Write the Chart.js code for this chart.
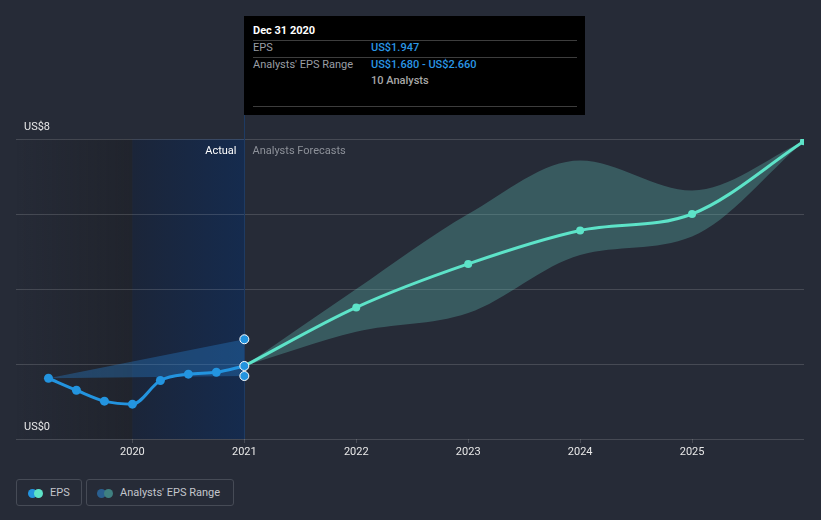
<!DOCTYPE html>
<html>
<head>
<meta charset="utf-8">
<script src="https://cdn.jsdelivr.net/npm/chart.js@4.4.1/dist/chart.umd.min.js"></script>
<style>
  body { margin: 0; background: #262b37; font-family: Roboto, sans-serif; }
  #wrap { position: relative; width: 821px; height: 520px; overflow: hidden; }
  #chart { position: absolute; left: 0; top: 0; }
  .tip { position: absolute; left: 244px; top: 16px; width: 341px; height: 99px; background: #000; }
  .tip span { position: absolute; font-size: 11px; line-height: 14px; white-space: nowrap; }
  .tip .rule { position: absolute; left: 9px; width: 324px; height: 1px; background: #3d3d3d; }
  .lbl { color: #9a9ea5; }
  .val { color: #2a97e6; font-weight: 500; }
  .leg { position: absolute; top: 479px; border: 1px solid #464b56; border-radius: 3px; box-sizing: border-box; height: 27px; }
  .leg i { position: absolute; top: 8.5px; width: 9px; height: 9px; border-radius: 50%; }
  .leg span { position: absolute; left: 33px; top: 6px; font-size: 11px; line-height: 14px; color: #c3c6cc; white-space: nowrap; }
</style>
</head>
<body>
<div id="wrap">
  <canvas id="chart" width="821" height="470"></canvas>

  <div class="tip">
    <span style="left:9px; top:8px; color:#fff; font-weight:700;">Dec 31 2020</span>
    <div class="rule" style="top:24px;"></div>
    <span class="lbl" style="left:9px; top:25px;">EPS</span>
    <span class="val" style="left:127px; top:25px;">US$1.947</span>
    <div class="rule" style="top:41px;"></div>
    <span class="lbl" style="left:9px; top:42px;">Analysts' EPS Range</span>
    <span class="val" style="left:127px; top:42px;">US$1.680 - US$2.660</span>
    <span style="left:127px; top:58px; color:#a8a8a8; font-weight:500;">10 Analysts</span>
    <div class="rule" style="top:90px;"></div>
  </div>

  <div class="leg" style="left:16px; width:66px;">
    <i style="left:11px; background:#2394df;"></i>
    <i style="left:17px; background:#5de3c8;"></i>
    <span>EPS</span>
  </div>
  <div class="leg" style="left:86px; width:148px;">
    <i style="left:10px; background:#2a5f8f;"></i>
    <i style="left:17px; background:#3f8080;"></i>
    <span>Analysts' EPS Range</span>
  </div>
</div>

<script>
// past EPS, quarterly (trailing)
const actualX = [2019.25, 2019.5, 2019.75, 2020.0, 2020.25, 2020.5, 2020.75, 2021.0];
const actualEps = [1.62, 1.30, 1.01, 0.93, 1.56, 1.73, 1.78, 1.947];

// analysts range shown over the actual period
const pastRangeX = [2019.25, 2021.0];
const pastRangeLow = [1.62, 1.68];
const pastRangeHigh = [1.62, 2.66];

// forecasts (year ends)
const forecastX = [2021.0, 2022.0, 2023.0, 2024.0, 2025.0, 2026.0];
const forecastEps = [1.947, 3.51, 4.67, 5.56, 6.00, 7.94];
const forecastLow = [1.947, 2.86, 3.36, 4.91, 5.40, 7.94];
const forecastHigh = [1.947, 4.00, 6.00, 7.43, 6.63, 7.94];

const tickYears = [2020, 2021, 2022, 2023, 2024, 2025];
const yTicksShown = [0, 8];

const shadeStart = 2020;
const shadeEnd = 2021;

const pts = (xs, ys) => xs.map((x, i) => ({ x: x, y: ys[i] }));

const BLUE = '#2394df';
const TEAL = '#5de3c8';
const GRID = 'rgba(255,255,255,0.15)';

const backdrop = {
  id: 'backdrop',
  beforeDraw(chart) {
    const { ctx, chartArea } = chart;
    const x = chart.scales.x;
    const x0 = x.getPixelForValue(shadeStart);
    const x1 = x.getPixelForValue(shadeEnd);
    ctx.save();
    let g = ctx.createLinearGradient(chartArea.left, 0, x0, 0);
    g.addColorStop(0, 'rgba(20,20,22,0)');
    g.addColorStop(1, 'rgba(20,20,22,0.3)');
    ctx.fillStyle = g;
    ctx.fillRect(chartArea.left, chartArea.top, x0 - chartArea.left, chartArea.bottom - chartArea.top);
    g = ctx.createLinearGradient(x0, 0, x1, 0);
    g.addColorStop(0, '#1b2539');
    g.addColorStop(1, '#152b4e');
    ctx.fillStyle = g;
    ctx.fillRect(x0, chartArea.top, x1 - x0, chartArea.bottom - chartArea.top);
    ctx.restore();
  },
  beforeDatasetsDraw(chart) {
    const { ctx, chartArea } = chart;
    const x1 = Math.round(chart.scales.x.getPixelForValue(shadeEnd)) + 0.5;
    ctx.save();
    ctx.strokeStyle = '#1e3b63';
    ctx.lineWidth = 1;
    ctx.beginPath();
    ctx.moveTo(x1, 115);
    ctx.lineTo(x1, chartArea.bottom);
    ctx.stroke();
    ctx.font = '11px Roboto';
    ctx.textBaseline = 'middle';
    ctx.textAlign = 'right';
    ctx.fillStyle = '#ffffff';
    ctx.fillText('Actual', x1 - 8, chartArea.top + 12);
    ctx.textAlign = 'left';
    ctx.fillStyle = '#8d9199';
    ctx.fillText('Analysts Forecasts', x1 + 8, chartArea.top + 12);
    ctx.restore();
  }
};

Chart.defaults.font.family = 'Roboto';
Chart.defaults.font.size = 11;

new Chart(document.getElementById('chart'), {
  type: 'line',
  data: {
    datasets: [
      {
        data: pts(forecastX, forecastHigh),
        borderWidth: 0, pointRadius: 0,
        backgroundColor: 'rgba(100,200,190,0.3)',
        fill: 1, cubicInterpolationMode: 'monotone', order: 10
      },
      {
        data: pts(forecastX, forecastLow),
        borderWidth: 0, pointRadius: 0, fill: false,
        cubicInterpolationMode: 'monotone', order: 10
      },
      {
        data: pts(pastRangeX, pastRangeHigh),
        borderWidth: 0, pointRadius: 0,
        backgroundColor: 'rgba(40,130,210,0.35)',
        fill: 3, order: 9
      },
      {
        data: pts(pastRangeX, pastRangeLow),
        borderWidth: 0, pointRadius: 0, fill: false, order: 9
      },
      {
        data: pts(forecastX, forecastEps),
        borderColor: TEAL, borderWidth: 3,
        pointBackgroundColor: TEAL, pointBorderWidth: 0,
        pointRadius: forecastX.map((v, i) => i === 0 ? 0 : 4),
        cubicInterpolationMode: 'monotone', clip: 0, order: 5
      },
      {
        data: pts(actualX, actualEps),
        borderColor: BLUE, borderWidth: 3,
        pointBackgroundColor: BLUE,
        pointBorderColor: '#ffffff',
        pointBorderWidth: actualX.map((v, i) => i === actualX.length - 1 ? 1 : 0),
        pointRadius: 4.5,
        cubicInterpolationMode: 'monotone', order: 3
      },
      {
        data: [{ x: pastRangeX[1], y: pastRangeLow[1] }, { x: pastRangeX[1], y: pastRangeHigh[1] }],
        showLine: false,
        pointBackgroundColor: BLUE, pointBorderColor: '#ffffff',
        pointBorderWidth: 1, pointRadius: 4.5, order: 2
      }
    ]
  },
  options: {
    responsive: false,
    animation: false,
    events: [],
    layout: { padding: { left: 16, right: 17, top: 139, bottom: 0 } },
    plugins: { legend: { display: false }, tooltip: { enabled: false } },
    scales: {
      x: {
        type: 'linear',
        min: 2018.96, max: 2026,
        afterBuildTicks: s => { s.ticks = tickYears.map(v => ({ value: v })); },
        afterFit: s => { s.height = 31; },
        border: { display: false },
        grid: { drawOnChartArea: false, drawTicks: true, tickLength: 4, color: GRID },
        ticks: { color: '#e8e8e8', padding: 3, maxRotation: 0, callback: v => String(v) }
      },
      y: {
        min: 0, max: 8,
        afterFit: s => { s.width = 0; },
        border: { display: false },
        grid: { color: GRID, drawTicks: false },
        ticks: {
          stepSize: 2, mirror: true, padding: 8, labelOffset: -12,
          color: '#e8e8e8',
          callback: v => yTicksShown.includes(v) ? 'US$' + v : ''
        }
      }
    }
  },
  plugins: [backdrop]
});
</script>
</body>
</html>
